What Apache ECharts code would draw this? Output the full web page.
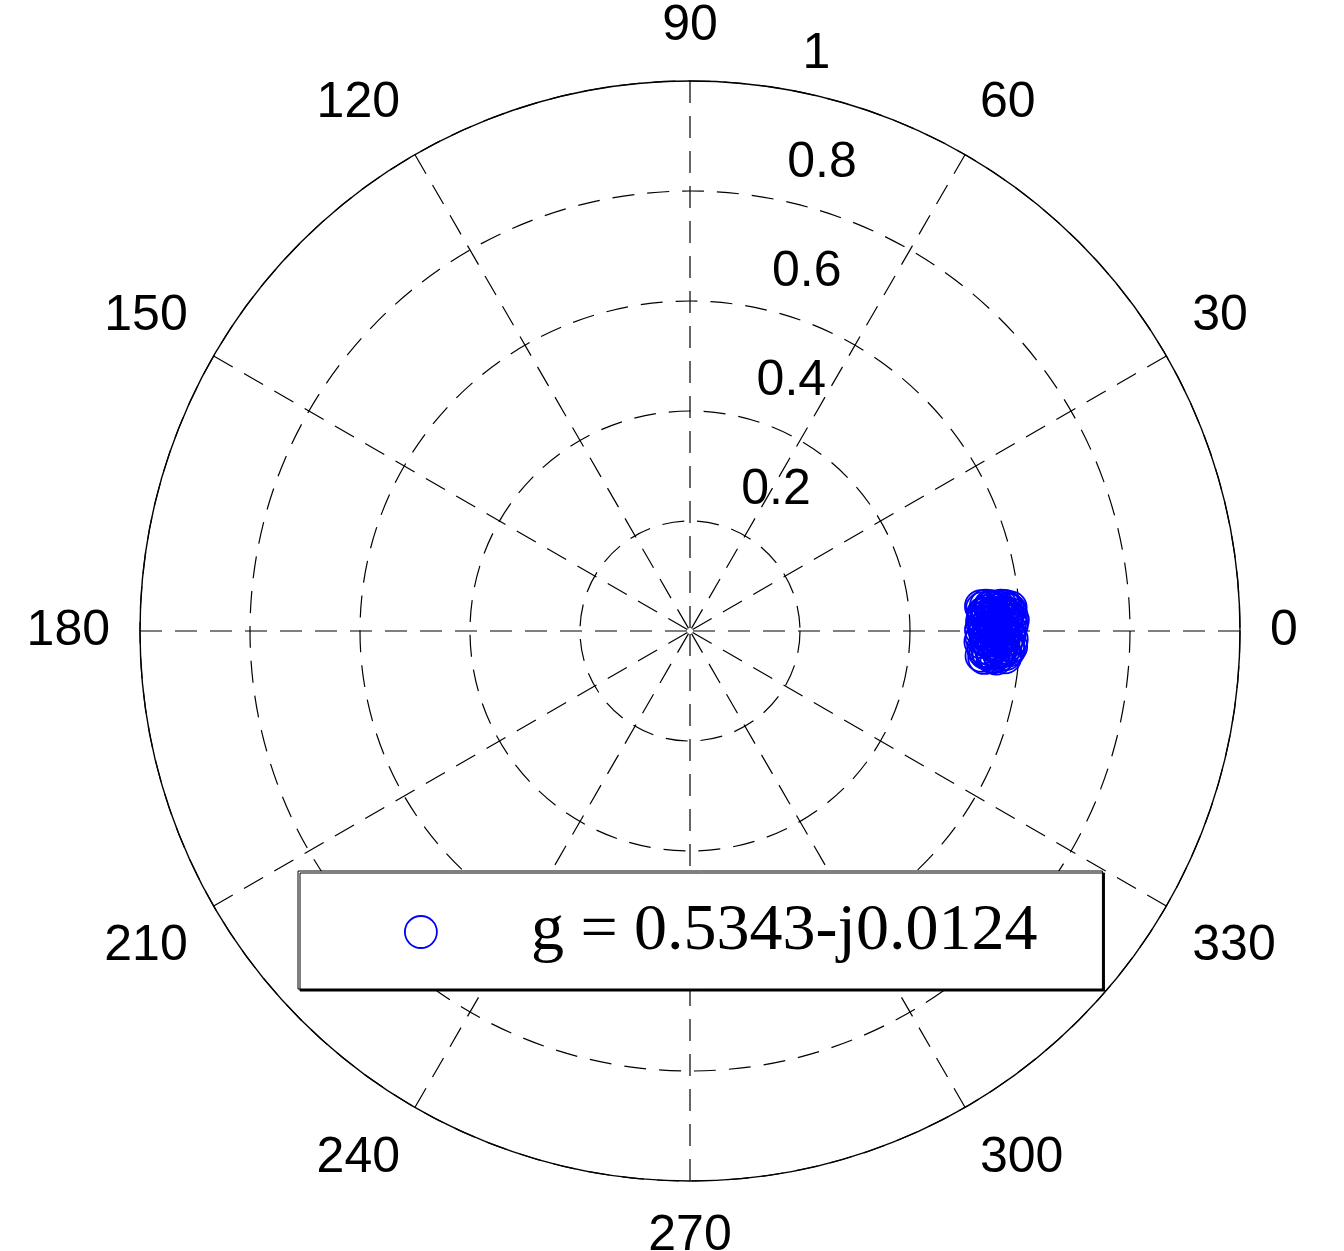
<!DOCTYPE html>
<html>
<head>
<meta charset="utf-8">
<script src="https://cdn.jsdelivr.net/npm/echarts@6/dist/echarts.min.js"></script>
<style>
html,body{margin:0;padding:0;background:#fff;}
#chart{width:1344px;height:1251px;}
</style>
</head>
<body>
<div id="chart"></div>
<script>
// Estimated samples (real and imaginary parts) read from the cluster
const realParts = [0.531,0.545,0.562,0.578,0.584,0.540,0.552,0.570,0.535,0.558,0.575,0.549,0.566,0.529,0.581,0.543,0.556,0.572,0.538,0.561,0.548,0.568,0.533,0.553,0.579,0.541,0.564,0.585,0.530,0.550,0.574,0.546,0.559,0.537,0.569,0.555,0.580,0.534,0.563,0.551,0.544,0.571,0.528,0.557,0.576,0.539,0.565,0.547,0.582,0.532,0.554,0.567,0.542,0.573,0.536,0.560,0.583,0.549,0.535,0.577,
  0.529,0.538,0.547,0.556,0.565,0.574,0.583,0.533,0.542,0.551,0.560,0.569,0.578,0.587,0.531,0.540,0.549,0.558,0.567,0.576,0.585,0.536,0.545,0.554,0.563,0.572,0.581,0.530,0.539,0.548,0.557,0.566,0.575,0.584,0.534,0.543,0.552,0.561,0.570,0.579];
const imagParts = [0.041,0.044,0.043,0.040,0.030,0.028,0.033,0.035,0.015,0.020,0.018,0.010,0.008,0.002,0.005,-0.005,-0.002,-0.008,-0.015,-0.012,-0.022,-0.020,-0.030,-0.028,-0.025,-0.038,-0.035,-0.015,-0.045,-0.048,-0.042,0.024,0.038,-0.040,0.026,0.012,-0.035,0.030,-0.044,-0.018,0.005,0.045,-0.020,-0.050,0.012,0.036,0.000,-0.034,0.038,0.022,0.027,-0.030,-0.010,-0.048,-0.002,-0.038,0.020,0.044,-0.049,0.028,
  0.045,0.046,0.045,0.044,0.046,0.045,0.043,0.032,0.036,0.030,0.034,0.031,0.029,0.020,0.016,0.022,0.018,0.025,0.014,0.021,0.010,0.000,0.004,-0.006,0.003,-0.004,-0.008,-0.012,-0.018,-0.014,-0.024,-0.016,-0.022,-0.028,-0.036,-0.042,-0.046,-0.040,-0.036,-0.032];
const seriesName = 'g = 0.5343-j0.0124';
const radiusTicks = [0.2, 0.4, 0.6, 0.8, 1];
const radiusLabelAngle = 82;

const points = realParts.map((re, i) => {
  const im = imagParts[i];
  let ang = Math.atan2(im, re) * 180 / Math.PI;
  if (ang < 0) ang += 360;
  return [Math.hypot(re, im), ang];
});
const radiusLabelData = radiusTicks.map(r => [r, radiusLabelAngle]);

const chart = echarts.init(document.getElementById('chart'), null, {renderer: 'canvas'});
const dash = [22, 13];
chart.setOption({
  backgroundColor: '#ffffff',
  animation: false,
  polar: {center: [690, 631], radius: 550},
  angleAxis: {
    type: 'value', min: 0, max: 360, interval: 30,
    startAngle: 0, clockwise: false,
    axisLine: {show: true, lineStyle: {color: '#000', width: 1.4}},
    axisTick: {show: false},
    axisLabel: {show: true, margin: 30, color: '#000', fontSize: 50, fontFamily: 'Liberation Sans, Arial, sans-serif'},
    splitLine: {show: true, lineStyle: {color: '#000', width: 1.2, type: dash}},
    splitArea: {show: false}
  },
  radiusAxis: {
    type: 'value', min: 0, max: 1, interval: 0.2,
    axisLine: {show: false}, axisTick: {show: false}, axisLabel: {show: false},
    splitLine: {show: true, lineStyle: {color: '#000', width: 1.2, type: dash}},
    splitArea: {show: false}
  },
  legend: {
    data: [seriesName],
    left: 298, top: 871,
    orient: 'horizontal',
    padding: [28, 65, 24, 106],
    backgroundColor: '#fff',
    borderColor: '#000', borderWidth: 1,
    shadowColor: '#000', shadowBlur: 0, shadowOffsetX: 2, shadowOffsetY: 2,
    itemWidth: 32, itemHeight: 32,
    icon: 'circle',
    itemStyle: {color: 'transparent', borderColor: '#0000ff', borderWidth: 1.8, opacity: 1},
    formatter: name => '{t|' + name + '}',
    textStyle: {
      rich: {t: {fontFamily: 'Liberation Serif, Times New Roman, serif', fontSize: 66, color: '#000', lineHeight: 80, padding: [0, 0, 0, 89]}}
    }
  },
  series: [
    {
      name: seriesName, type: 'scatter', coordinateSystem: 'polar',
      data: points, symbol: 'circle', symbolSize: 32,
      itemStyle: {color: 'transparent', borderColor: '#0000ff', borderWidth: 1.8, opacity: 1},
      z: 3
    },
    {
      name: 'rlabels', type: 'scatter', coordinateSystem: 'polar',
      data: radiusLabelData, symbolSize: 0, silent: true,
      itemStyle: {opacity: 1},
      label: {
        show: true, position: [36, -32], align: 'left', verticalAlign: 'middle',
        formatter: p => String(p.value[0]),
        color: '#000', fontSize: 50, fontFamily: 'Liberation Sans, Arial, sans-serif'
      },
      z: 2
    }
  ]
});
</script>
</body>
</html>
